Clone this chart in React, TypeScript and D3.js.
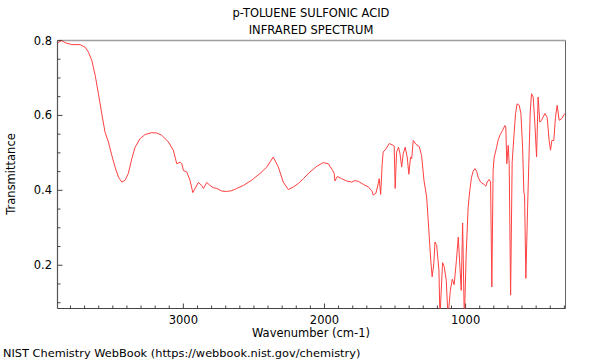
import React from "react";
import * as d3 from "d3";

const title1 = "p-TOLUENE SULFONIC ACID";
const title2 = "INFRARED SPECTRUM";
const xLabel = "Wavenumber (cm-1)";
const yLabel = "Transmittance";
const credit = "NIST Chemistry WebBook (https://webbook.nist.gov/chemistry)";

const xMajorTicks = [3000, 2000, 1000];
const yMajorTicks = [0.2, 0.4, 0.6, 0.8];

const wavenumber = [
  3890, 3861, 3838, 3790, 3732, 3696, 3673, 3649, 3625, 3602, 3578, 3555, 3531, 3507, 3484, 3460,
  3436, 3413, 3390, 3365, 3342, 3307, 3271, 3224, 3188, 3153, 3106, 3071, 3047, 3023, 3011, 3000,
  2976, 2953, 2933, 2917, 2894, 2870, 2858, 2834, 2811, 2788, 2763, 2728, 2693, 2657, 2622, 2575,
  2516, 2457, 2409, 2363, 2327, 2292, 2256, 2221, 2186, 2150, 2103, 2055, 2009, 1973, 1942, 1931,
  1926, 1909, 1878, 1843, 1807, 1784, 1761, 1725, 1690, 1666, 1654, 1635, 1619, 1612, 1602, 1591,
  1584, 1564, 1541, 1513, 1506, 1499, 1489, 1475, 1465, 1453, 1442, 1428, 1414, 1402, 1390, 1382,
  1371, 1352, 1329, 1312, 1295, 1276, 1265, 1253, 1246, 1237, 1225, 1217, 1205, 1189, 1182, 1163,
  1152, 1137, 1125, 1108, 1094, 1081, 1065, 1052, 1040, 1031, 1021, 1009, 996, 982, 970, 958,
  946, 934, 922, 911, 894, 870, 856, 847, 833, 823, 814, 805, 797, 780, 769, 757,
  738, 722, 715, 708, 698, 691, 681, 670, 658, 646, 635, 620, 608, 596, 587, 582,
  573, 561, 552, 542, 533, 521, 509, 497, 486, 474, 462, 438, 422, 408, 398, 389,
  375, 363, 351, 337, 320, 297,
];
const transmittance = [
  0.794, 0.8, 0.794, 0.789, 0.789, 0.782, 0.769, 0.747, 0.707, 0.658, 0.604, 0.555, 0.529, 0.493, 0.462, 0.435,
  0.422, 0.427, 0.445, 0.485, 0.515, 0.538, 0.549, 0.554, 0.553, 0.547, 0.529, 0.507, 0.471, 0.475, 0.471, 0.453,
  0.449, 0.427, 0.394, 0.405, 0.421, 0.413, 0.405, 0.421, 0.413, 0.407, 0.405, 0.398, 0.397, 0.399, 0.405, 0.413,
  0.427, 0.445, 0.462, 0.489, 0.462, 0.422, 0.402, 0.409, 0.418, 0.431, 0.449, 0.464, 0.474, 0.471, 0.453, 0.445,
  0.425, 0.437, 0.431, 0.425, 0.422, 0.426, 0.424, 0.416, 0.409, 0.4, 0.387, 0.393, 0.418, 0.431, 0.389, 0.471,
  0.502, 0.511, 0.525, 0.52, 0.518, 0.405, 0.502, 0.515, 0.498, 0.462, 0.498, 0.515, 0.489, 0.443, 0.489, 0.485,
  0.533, 0.523, 0.517, 0.493, 0.427, 0.382, 0.32, 0.249, 0.209, 0.169, 0.205, 0.262, 0.253, 0.187, 0.06, 0.207,
  0.197, 0.16, 0.06, 0.133, 0.163, 0.148, 0.213, 0.275, 0.195, 0.133, 0.313, 0.05, 0.227, 0.355, 0.4, 0.435,
  0.451, 0.458, 0.451, 0.435, 0.422, 0.416, 0.411, 0.422, 0.429, 0.422, 0.142, 0.453, 0.489, 0.515, 0.535, 0.547,
  0.56, 0.573, 0.569, 0.471, 0.52, 0.471, 0.12, 0.475, 0.542, 0.605, 0.631, 0.627, 0.605, 0.515, 0.395, 0.387,
  0.165, 0.347, 0.471, 0.609, 0.658, 0.649, 0.578, 0.489, 0.649, 0.582, 0.587, 0.605, 0.595, 0.533, 0.507, 0.533,
  0.533, 0.595, 0.627, 0.587, 0.591, 0.605,
];

const W = 600;
const H = 360;
const left = 57.5;
const right = 565.5;
const top = 40.5;
const bottom = 308.5;
const FONT = "DejaVu Sans, sans-serif";

export default function App() {
  const x = d3.scaleLinear().domain([3892, 292]).range([left, right]);
  const y = d3.scaleLinear().domain([0.0845, 0.8]).range([bottom, top]);

  const pts: [number, number][] = wavenumber.map((w, i) => [w, transmittance[i]]);
  const line = d3
    .line<[number, number]>()
    .x((d) => x(d[0]))
    .y((d) => y(d[1]));

  const xMinor = d3.range(3800, 250, -100).filter((v) => !xMajorTicks.includes(v));
  const yMinor = d3.range(0.1, 0.8, 0.05).map((v) => Math.round(v * 100) / 100).filter((v) => !yMajorTicks.some((m) => Math.abs(m - v) < 1e-6));

  return (
    <div style={{ position: "fixed", left: 0, top: 0 }}>
      <svg width={W} height={H} style={{ display: "block", background: "#fff" }} fontFamily={FONT}>
        <defs>
          <clipPath id="plotclip">
            <rect x={left} y={top} width={right - left} height={bottom - top} />
          </clipPath>
        </defs>
        <text x={311} y={17} textAnchor="middle" fontSize={11.5} fill="#000">{title1}</text>
        <text x={311} y={34} textAnchor="middle" fontSize={11.5} fill="#000">{title2}</text>

        {/* frame */}
        <line x1={left} y1={top} x2={right} y2={top} stroke="#a0a0a0" strokeWidth={1.5} />
        <line x1={right} y1={top} x2={right} y2={bottom} stroke="#666" strokeWidth={1} />
        <line x1={left} y1={top} x2={left} y2={bottom} stroke="#555" strokeWidth={1.2} />
        <line x1={left} y1={bottom} x2={right} y2={bottom} stroke="#444" strokeWidth={1.2} />

        {/* x ticks */}
        {xMinor.map((v) => (
          <line key={"xm" + v} x1={x(v)} x2={x(v)} y1={bottom} y2={bottom - 3} stroke="#444" />
        ))}
        {xMajorTicks.map((v) => (
          <g key={"xM" + v}>
            <line x1={x(v)} x2={x(v)} y1={bottom} y2={bottom - 5} stroke="#444" />
            <text x={x(v)} y={324} textAnchor="middle" fontSize={11.5} fill="#000">{v}</text>
          </g>
        ))}
        {/* y ticks */}
        {yMinor.map((v) => (
          <line key={"ym" + v} x1={left} x2={left + 3} y1={y(v)} y2={y(v)} stroke="#444" />
        ))}
        {yMajorTicks.map((v) => (
          <g key={"yM" + v}>
            <line x1={left} x2={left + 5} y1={y(v)} y2={y(v)} stroke="#444" />
            <text x={52} y={y(v) + 4} textAnchor="end" fontSize={11.5} fill="#000">{v.toFixed(1)}</text>
          </g>
        ))}

        <text x={311} y={337} textAnchor="middle" fontSize={11.5} fill="#000">{xLabel}</text>
        <text transform={`translate(15,174) rotate(-90)`} textAnchor="middle" fontSize={11.5} fill="#000">{yLabel}</text>
        <text x={3} y={357} fontSize={11.35} fill="#000">{credit}</text>

        <path d={line(pts) || ""} fill="none" stroke="#ff4040" strokeWidth={1} clipPath="url(#plotclip)" />
      </svg>
    </div>
  );
}
